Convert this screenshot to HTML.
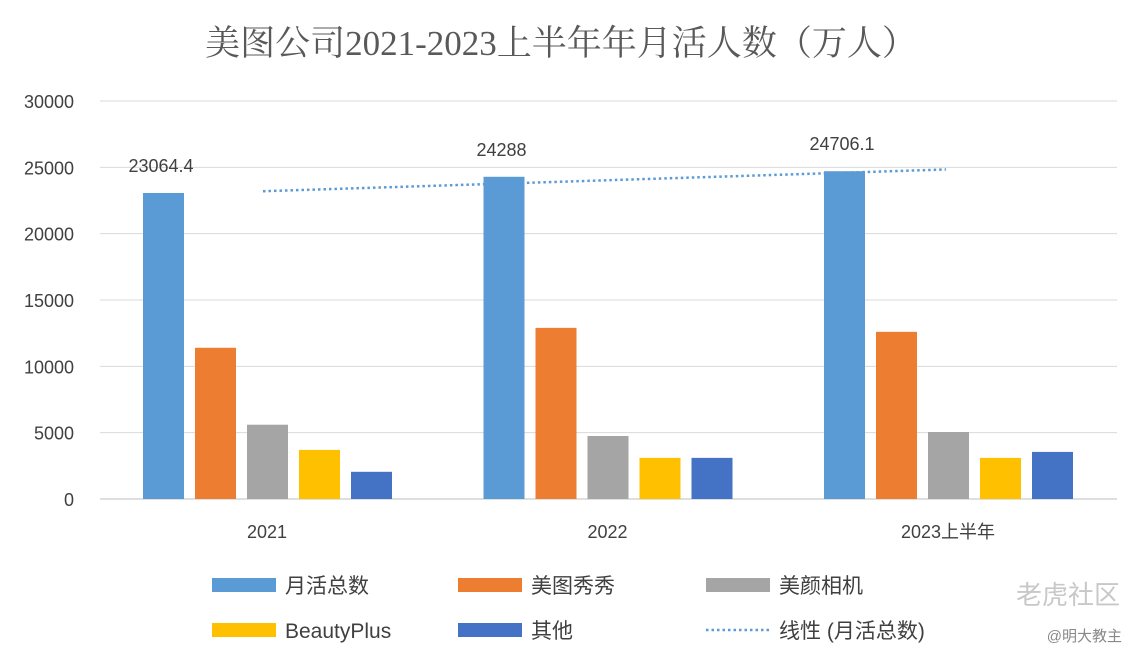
<!DOCTYPE html>
<html><head><meta charset="utf-8"><style>
body{margin:0;background:#fff;}
svg{display:block;font-family:"Liberation Sans","Noto Sans CJK SC",sans-serif;}
</style></head><body>
<svg id="c" width="1142" height="660">
<text x="561" y="55" text-anchor="middle" font-size="35" fill="#595959" font-family="Liberation Serif, Noto Serif CJK SC, serif">美图公司2021-2023上半年年月活人数（万人）</text>
<g id="grid"></g><g id="bars"></g><g id="labels"></g><g id="legend"></g>
<text x="1120" y="604" text-anchor="end" font-size="26" fill="#c8c8c8">老虎社区</text>
<text x="1122" y="641" text-anchor="end" font-size="15" fill="#888">@明大教主</text>
</svg>
<script>
const categories=["2021","2022","2023上半年"];
const seriesNames=["月活总数","美图秀秀","美颜相机","BeautyPlus","其他"];
const totalValues=[23064.4,24288,24706.1];
const xiuxiuValues=[11400,12900,12600];
const cameraValues=[5600,4750,5050];
const beautyPlusValues=[3700,3100,3100];
const otherValues=[2050,3100,3550];
const totalLabels=["23064.4","24288","24706.1"];
const yTicks=[0,5000,10000,15000,20000,25000,30000];
const colors=["#5b9bd5","#ed7d31","#a5a5a5","#ffc000","#4472c4"];
const NS="http://www.w3.org/2000/svg";
function mk(t,a,p){const e=document.createElementNS(NS,t);for(const k in a)e.setAttribute(k,a[k]);p.appendChild(e);return e;}
const y0=499,yTop=101,yMax=30000;
function y(v){return y0-(v/yMax)*(y0-yTop);}
function groupX(i){return 143+i*340.5;}
const grid=document.getElementById('grid');
yTicks.forEach(t=>{
 const l=mk('line',{x1:100,x2:1117,y1:y(t),y2:y(t),stroke:t===0?'#bfbfbf':'#d9d9d9','stroke-width':1},grid);
 
 
 const tx=mk('text',{x:74,y:y(t)+7,'text-anchor':'end','font-size':18,fill:'#404040'},grid);
 tx.textContent=t;
 
 
});
const all=[totalValues,xiuxiuValues,cameraValues,beautyPlusValues,otherValues];
const bars=document.getElementById('bars');
categories.forEach((c,i)=>{
 all.forEach((s,j)=>{
  const r=mk('rect',{x:groupX(i)+j*52,y:y(s[i]),width:41,height:y0-y(s[i]),fill:colors[j]},bars);
  
  
 });
 const tl=mk('text',{x:groupX(i)+124,y:538,'text-anchor':'middle','font-size':18,fill:'#404040'},bars);
 tl.textContent=c;
 
 
 const vl=mk('text',{x:groupX(i)+18,y:y(totalValues[i])-21,'text-anchor':'middle','font-size':18,fill:'#404040'},bars);
 vl.textContent=totalLabels[i];
 
 
});
const n=totalValues.length,mx=(n+1)/2,my=totalValues.reduce((a,b)=>a+b)/n;
let num=0,den=0;totalValues.forEach((v,i)=>{num+=(i+1-mx)*(v-my);den+=(i+1-mx)**2;});
const slope=num/den,ic=my-slope*mx;
const tr=mk('line',{x1:groupX(0)+120,y1:y(ic+slope),x2:groupX(n-1)+122,y2:y(ic+slope*n),stroke:'#5b9bd5','stroke-width':2.5,'stroke-dasharray':'2.5 3'},bars);


const lg=document.getElementById('legend');
const names=[...seriesNames,"线性 (月活总数)"];
names.forEach((nm,k)=>{
 const cx=[212,458,706][k%3],cy=k<3?585:630;
 if(k<5){const r=mk('rect',{x:cx,y:cy-7,width:64,height:14,fill:colors[k]},lg);
  
  }
 else{const l=mk('line',{x1:cx,x2:cx+64,y1:cy,y2:cy,stroke:'#5b9bd5','stroke-width':2.5,'stroke-dasharray':'2.5 3'},lg);
  
  }
 const t=mk('text',{x:cx+73,y:cy+8,'font-size':21,fill:'#404040'},lg);
 t.textContent=nm;
 
 
});
</script>
</body></html>
